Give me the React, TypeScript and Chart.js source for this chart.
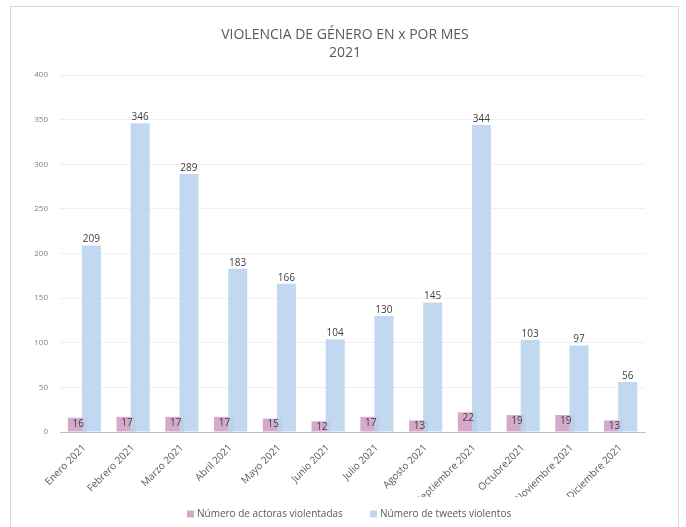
import React, { useEffect, useRef } from "react";
import { Chart, registerables } from "chart.js";

Chart.register(...registerables);

const months = [
  "Enero 2021", "Febrero 2021", "Marzo 2021", "Abril 2021", "Mayo 2021", "Junio 2021",
  "Julio 2021", "Agosto 2021", "Septiembre 2021", "Octubre2021", "Noviembre 2021", "Diciembre 2021",
];
const actoras = [16, 17, 17, 17, 15, 12, 17, 13, 22, 19, 19, 13];
const tweets = [209, 346, 289, 183, 166, 104, 130, 145, 344, 103, 97, 56];
const titleLines = ["VIOLENCIA DE GÉNERO EN x POR MES", "2021"];
const seriesNames = ["Número de actoras violentadas", "Número de tweets violentos"];

const FONT = "'Open Sans', 'Noto Sans', sans-serif";
const PINK = "#d5a9cc";
const BLUE = "#bdd7ee";

const shiftPlugin = {
  id: "shiftBars",
  afterDatasetsUpdate(chart: any) {
    const xs = chart.scales.x;
    const cat = (xs.right - xs.left) / months.length;
    const off = cat * 0.145;
    chart.getDatasetMeta(0).data.forEach((b: any) => (b.x -= off));
    chart.getDatasetMeta(1).data.forEach((b: any) => (b.x += off));
  },
};

const labelsPlugin = {
  id: "valueLabels",
  afterDatasetsDraw(chart: any) {
    const ctx = chart.ctx;
    ctx.save();
    ctx.font = `10px ${FONT}`;
    ctx.fillStyle = "#404040";
    ctx.textAlign = "center";
    chart.data.datasets.forEach((ds: any, i: number) => {
      const meta = chart.getDatasetMeta(i);
      meta.data.forEach((bar: any, j: number) => {
        const v = ds.data[j];
        if (i === 1) {
          ctx.textBaseline = "bottom";
          ctx.fillText(String(v), bar.x, bar.y - 1);
        } else {
          ctx.textBaseline = "top";
          ctx.fillText(String(v), bar.x + 1, bar.y + 1);
        }
      });
    });
    ctx.restore();
  },
};

const titleLegendPlugin = {
  id: "titleLegend",
  afterDraw(chart: any) {
    const ctx = chart.ctx;
    ctx.save();
    ctx.font = `14px ${FONT}`;
    ctx.fillStyle = "#595959";
    ctx.textAlign = "center";
    ctx.textBaseline = "middle";
    const cx = 334;
    titleLines.forEach((t, i) => {
      ctx.fillText(t, cx, 28 + i * 18);
    });
    // legend
    ctx.font = `10px ${FONT}`;
    ctx.textAlign = "left";
    const items = [
      { x: 176, color: PINK, text: seriesNames[0] },
      { x: 359, color: BLUE, text: seriesNames[1] },
    ];
    const ly = 507;
    items.forEach((it) => {
      ctx.fillStyle = it.color;
      ctx.fillRect(it.x, ly - 3.5, 7, 7);
      ctx.fillStyle = "#595959";
      ctx.fillText(it.text, it.x + 10, ly);
    });
    ctx.restore();
  },
};

export default function App() {
  const ref = useRef<HTMLCanvasElement>(null);
  useEffect(() => {
    if (!ref.current) return;
    const chart = new Chart(ref.current, {
      type: "bar",
      data: {
        labels: months,
        datasets: [
          {
            label: seriesNames[0],
            data: actoras,
            backgroundColor: PINK,
            order: 1,
          },
          {
            label: seriesNames[1],
            data: tweets,
            backgroundColor: "rgba(186,212,238,0.9)",
            order: 0,
          },
        ],
      },
      options: {
        animation: false,
        responsive: false,
        maintainAspectRatio: false,
        datasets: {
          bar: { grouped: false, barPercentage: 0.39, categoryPercentage: 1 },
        },
        layout: { padding: { top: 68, right: 33, left: 0, bottom: 30 } },
        plugins: {
          title: { display: false },
          tooltip: { enabled: false },
          legend: { display: false },
        },
        scales: {
          x: {
            grid: { display: false },
            border: { display: true, color: "#bfbfbf", width: 1 },
            ticks: {
              maxRotation: 45,
              minRotation: 45,
              color: "#595959",
              font: { family: FONT, size: 10 },
              padding: 2,
            },
            afterFit: (s: any) => {
              s.height = 65;
            },
          },
          y: {
            min: 0,
            max: 400,
            ticks: {
              stepSize: 50,
              color: "#7f7f7f",
              font: { family: FONT, size: 8 },
              padding: 12,
            },
            grid: { color: "#efefef", drawTicks: false },
            border: { display: false },
            afterFit: (s: any) => {
              s.width = 49;
            },
          },
        },
      },
      plugins: [shiftPlugin, labelsPlugin, titleLegendPlugin],
    });
    return () => chart.destroy();
  }, []);

  return (
    <div
      style={{
        position: "absolute",
        left: 10,
        top: 6,
        width: 669,
        height: 530,
        border: "1px solid #d9d9d9",
        background: "#fff",
        boxSizing: "border-box",
      }}
    >
      <canvas ref={ref} width={667} height={520} style={{ display: "block" }} />
    </div>
  );
}
